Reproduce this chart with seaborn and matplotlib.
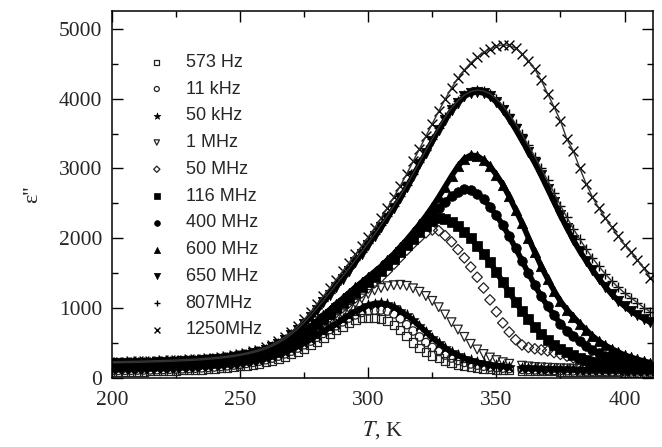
import numpy as np
import pandas as pd
import matplotlib
matplotlib.use("Agg")
import matplotlib.pyplot as plt
from matplotlib.ticker import MultipleLocator
import seaborn as sns

nan = np.nan

# Temperature grid, K
temperature = [200 + 2.5 * i for i in range(85)]

# Dielectric loss eps'' for each measuring frequency (rows of 10 points)
eps_573Hz = [
    90, 91, 92, 93, 95, 97, 99, 101, 103, 106,
    109, 112, 116, 120, 125, 130, 136, 143, 151, 160,
    170, 182, 196, 212, 230, 252, 278, 308, 343, 382,
    425, 472, 522, 575, 630, 685, 740, 795, 840, 858,
    865, 862, 850, 815, 760, 690, 600, 510, 435, 375,
    325, 285, 250, 220, 195, 175, 160, 148, 138, 130,
    124, 119, 115, nan, 110, 107, 105, 103, 101, 99,
    97, 95, 94, 92, 91, 89, 88, 87, 85, 84,
    83, 82, 81, 80, 80]
eps_11kHz = [
    110, 111, 112, 113, 115, 117, 119, 121, 124, 127,
    130, 134, 138, 142, 147, 153, 160, 168, 177, 187,
    198, 211, 226, 243, 263, 287, 315, 348, 386, 430,
    478, 530, 585, 640, 695, 750, 805, 860, 905, 940,
    962, 973, 975, 960, 920, 850, 765, 675, 590, 510,
    440, 380, 330, 287, 252, 225, 203, 185, 170, 158,
    150, 143, 137, nan, 126, 122, 118, 115, 112, 110,
    108, 106, 104, 102, 100, 98, 96, 95, 93, 92,
    90, 89, 88, 87, 86]
eps_50kHz = [
    130, 131, 132, 134, 136, 138, 140, 143, 146, 149,
    152, 156, 160, 164, 169, 175, 182, 190, 199, 209,
    220, 233, 248, 265, 285, 310, 340, 375, 415, 460,
    510, 560, 615, 670, 725, 780, 840, 900, 955, 1005,
    1045, 1068, 1075, 1058, 1018, 962, 900, 830, 750, 665,
    580, 505, 435, 375, 325, 285, 255, 230, 210, 195,
    182, 172, 163, nan, 150, 145, 141, 138, 135, 132,
    129, 127, 125, 122, 120, 118, 116, 114, 112, 110,
    108, 106, 104, 102, 100]
eps_1MHz = [
    150, 151, 152, 154, 156, 158, 160, 163, 166, 169,
    172, 176, 180, 184, 189, 195, 202, 210, 219, 229,
    240, 253, 268, 285, 305, 330, 360, 395, 435, 480,
    530, 590, 655, 715, 780, 845, 915, 990, 1065, 1140,
    1205, 1255, 1290, 1315, 1330, 1335, 1320, 1285, 1235, 1175,
    1105, 1015, 910, 800, 695, 590, 490, 410, 345, 295,
    258, 228, 205, nan, 178, 168, 160, 155, 150, 146,
    142, 139, 136, 133, 130, 127, 125, 122, 120, 118,
    115, 113, 110, 108, 105]
eps_50MHz = [
    170, 171, 173, 175, 177, 179, 182, 185, 188, 191,
    195, 199, 203, 208, 214, 221, 229, 238, 248, 260,
    273, 288, 305, 325, 350, 378, 410, 448, 492, 543,
    605, 672, 745, 810, 875, 942, 1010, 1080, 1150, 1220,
    1290, 1365, 1445, 1535, 1630, 1730, 1830, 1925, 2010, 2080,
    2120, 2110, 2040, 1950, 1840, 1720, 1590, 1445, 1290, 1120,
    950, 790, 660, 550, 475, 440, 420, 405, 390, 365,
    340, 315, 290, 268, 250, 230, 210, 197, 185, 175,
    165, 158, 150, 145, 140]
eps_116MHz = [
    180, 181, 183, 185, 187, 189, 192, 195, 198, 201,
    205, 209, 213, 218, 224, 231, 239, 248, 258, 270,
    283, 298, 315, 335, 360, 390, 424, 463, 509, 562,
    625, 695, 773, 850, 925, 1000, 1075, 1150, 1225, 1298,
    1370, 1450, 1530, 1620, 1710, 1805, 1900, 1995, 2090, 2180,
    2255, 2295, 2280, 2235, 2170, 2090, 2000, 1895, 1780, 1655,
    1520, 1375, 1230, 1090, 960, 840, 730, 635, 550, 480,
    420, 372, 330, 292, 262, 238, 220, 204, 190, 180,
    170, 160, 150, 145, 140]
eps_400MHz = [
    190, 191, 193, 195, 197, 199, 202, 205, 208, 211,
    215, 219, 223, 228, 234, 241, 249, 258, 268, 280,
    293, 308, 325, 345, 370, 400, 435, 475, 522, 578,
    642, 713, 793, 872, 950, 1030, 1110, 1185, 1260, 1335,
    1410, 1485, 1560, 1645, 1730, 1825, 1920, 2020, 2120, 2225,
    2330, 2430, 2520, 2600, 2660, 2700, 2690, 2640, 2560, 2450,
    2330, 2190, 2030, 1860, 1680, 1500, 1330, 1170, 1030, 900,
    780, 680, 600, 525, 460, 405, 360, 320, 290, 262,
    240, 220, 200, 188, 175]
eps_600MHz = [
    200, 201, 203, 205, 207, 209, 212, 215, 218, 221,
    225, 229, 233, 238, 244, 251, 259, 268, 278, 290,
    303, 318, 336, 357, 382, 412, 448, 490, 540, 598,
    664, 738, 820, 900, 980, 1060, 1140, 1220, 1300, 1375,
    1450, 1525, 1600, 1690, 1780, 1880, 1980, 2090, 2200, 2320,
    2450, 2590, 2740, 2890, 3030, 3140, 3190, 3180, 3120, 3030,
    2910, 2770, 2600, 2410, 2220, 2010, 1800, 1600, 1420, 1250,
    1100, 980, 880, 780, 690, 605, 530, 470, 420, 375,
    330, 300, 270, 245, 220]
eps_650MHz = [
    210, 211, 213, 215, 217, 219, 222, 225, 228, 231,
    235, 239, 243, 248, 254, 261, 269, 278, 289, 302,
    317, 334, 355, 380, 410, 447, 493, 548, 612, 688,
    775, 870, 975, 1085, 1195, 1310, 1425, 1540, 1660, 1780,
    1905, 2030, 2160, 2295, 2435, 2580, 2735, 2895, 3060, 3225,
    3390, 3550, 3700, 3830, 3940, 4030, 4080, 4095, 4080, 4030,
    3950, 3840, 3710, 3560, 3400, 3240, 3080, 2900, 2710, 2520,
    2330, 2150, 1980, 1820, 1680, 1550, 1420, 1310, 1200, 1110,
    1030, 960, 900, 850, 800]
eps_807MHz = [
    220, 221, 223, 225, 227, 229, 232, 235, 238, 241,
    245, 249, 253, 258, 264, 271, 279, 288, 299, 312,
    327, 344, 365, 390, 420, 458, 505, 562, 628, 705,
    795, 893, 1000, 1110, 1225, 1340, 1455, 1570, 1690, 1810,
    1935, 2060, 2190, 2325, 2465, 2610, 2765, 2925, 3090, 3260,
    3425, 3585, 3735, 3865, 3970, 4050, 4100, 4120, 4110, 4070,
    4000, 3900, 3780, 3640, 3490, 3330, 3170, 3000, 2830, 2650,
    2470, 2300, 2140, 1990, 1850, 1720, 1600, 1490, 1390, 1300,
    1220, 1150, 1080, 1010, 950]
eps_1250MHz = [
    235, 236, 238, 240, 242, 244, 247, 250, 253, 256,
    260, 264, 268, 273, 279, 286, 294, 303, 314, 327,
    342, 360, 382, 408, 440, 480, 530, 590, 660, 745,
    840, 945, 1060, 1175, 1290, 1410, 1530, 1650, 1770, 1895,
    2020, 2150, 2290, 2435, 2590, 2750, 2920, 3100, 3280, 3460,
    3640, 3820, 3990, 4150, 4290, 4410, 4510, 4590, 4660, 4710,
    4745, 4770, 4760, 4720, 4640, 4540, 4420, 4260, 4070, 3880,
    3680, 3420, 3250, 3010, 2780, 2590, 2430, 2290, 2160, 2030,
    1910, 1800, 1690, 1570, 1440]

labels = ["573 Hz", "11 kHz", "50 kHz", "1 MHz", "50 MHz", "116 MHz",
          "400 MHz", "600 MHz", "650 MHz", "807MHz", "1250MHz"]
series = [eps_573Hz, eps_11kHz, eps_50kHz, eps_1MHz, eps_50MHz, eps_116MHz,
          eps_400MHz, eps_600MHz, eps_650MHz, eps_807MHz, eps_1250MHz]

# marker, fill kind: "open", "solid" or "line" (line-art markers)
styles = [("s", "open"), ("o", "open"), ("*", "solid"), ("v", "open"), ("D", "open"),
          ("s", "solid"), ("o", "solid"), ("^", "solid"), ("v", "solid"),
          ("+", "line"), ("x", "line")]
sizes = [36, 36, 70, 40, 28, 44, 48, 56, 56, 50, 50]

frames = []
for lab, vals in zip(labels, series):
    v = pd.Series(vals, dtype=float)
    frames.append(pd.DataFrame({"T": temperature, "eps": v, "freq": lab,
                                "run": v.isna().cumsum()}))
df = pd.concat(frames, ignore_index=True)

sns.set_style("ticks")
plt.rcParams["font.family"] = ["Liberation Serif", "DejaVu Serif"]
plt.rcParams["mathtext.fontset"] = "stix"

fig = plt.figure(figsize=(6.62, 4.47), dpi=100)
ax = fig.add_axes([0.169, 0.154, 0.817, 0.821])

for lab, (m, kind), s in zip(labels, styles, sizes):
    sub = df[df["freq"] == lab].dropna()
    # dense measurement runs merge into a continuous band
    if kind == "solid":
        sns.lineplot(data=sub, x="T", y="eps", units="run", estimator=None,
                     sort=False, color="black", linewidth=4.0, ax=ax, legend=False)
    elif kind == "line":
        sns.lineplot(data=sub, x="T", y="eps", units="run", estimator=None,
                     sort=False, color="#333333", linewidth=1.0, ax=ax, legend=False)
    kw = dict(marker=m, s=s, ax=ax, label=lab)
    if kind == "line":
        kw.update(color="black", linewidth=1.0)
    elif kind == "solid":
        kw.update(color="black", edgecolor="black", linewidth=0.5)
    else:
        kw.update(color="#222222", facecolors="none", edgecolor="#222222", linewidth=0.9)
    sns.scatterplot(data=sub, x="T", y="eps", **kw)

ax.set_xlim(200, 411)
ax.set_ylim(0, 5250)
ax.xaxis.set_major_locator(MultipleLocator(50))
ax.xaxis.set_minor_locator(MultipleLocator(25))
ax.yaxis.set_major_locator(MultipleLocator(1000))
ax.yaxis.set_minor_locator(MultipleLocator(500))
ax.tick_params(which="both", direction="in", top=True, right=True,
               labelsize=15.5, width=1.0, color="black")
ax.tick_params(which="major", length=8)
ax.tick_params(which="minor", length=4)
ax.tick_params(axis="y", pad=7)
ax.tick_params(axis="x", pad=9)
for sp in ax.spines.values():
    sp.set_linewidth(1.1)
    sp.set_color("black")

ax.set_xlabel("$T$, K", fontsize=16, labelpad=7)
ax.set_ylabel("ε''", fontsize=16, labelpad=12)

leg = ax.legend(loc="upper left", bbox_to_anchor=(0.043, 0.903), frameon=False,
                borderaxespad=0, labelspacing=0.54, handletextpad=0.8,
                handlelength=1.6, scatterpoints=1, markerscale=0.6,
                prop={"family": "Liberation Sans", "size": 13})

fig.savefig("out.png", dpi=100)
